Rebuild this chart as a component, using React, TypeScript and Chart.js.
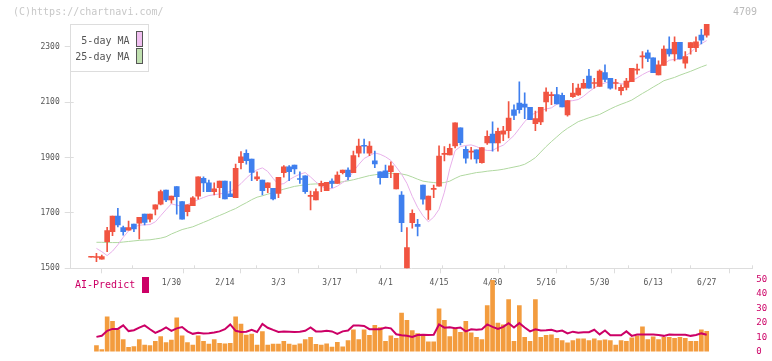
import React, { useEffect, useRef } from 'react';
import { Chart, registerables } from 'chart.js';

Chart.register(...registerables);

// ---- data (trading-day index: 0 = 1/30, 100 = 6/27) ----
const FIRST_DAY = -15;

const opens = [
  1540, 1539, 1533, 1596, 1632, 1689, 1647, 1638, 1660, 1663,
  1696, 1678, 1714, 1732, 1783, 1747, 1795, 1741, 1705, 1726,
  1761, 1825, 1809, 1777, 1791, 1815, 1769, 1755, 1882, 1916,
  1895, 1823, 1819, 1791, 1789, 1771, 1846, 1867, 1873, 1823,
  1834, 1760, 1747, 1798, 1781, 1815, 1807, 1846, 1855, 1846,
  1916, 1943, 1916, 1888, 1849, 1852, 1849, 1787, 1765, 1490,
  1665, 1659, 1801, 1711, 1785, 1797, 1912, 1910, 1942, 2008,
  1930, 1920, 1928, 1882, 1953, 1985, 1953, 1985, 1997, 2073,
  2097, 2094, 2082, 2023, 2029, 2101, 2124, 2128, 2125, 2054,
  2120, 2127, 2151, 2195, 2168, 2157, 2207, 2187, 2168, 2142,
  2154, 2175, 2216, 2264, 2279, 2261, 2199, 2233, 2292, 2275,
  2317, 2241, 2297, 2297, 2343, 2343,
];

const highs = [
  1540, 1554, 1548, 1648, 1689, 1717, 1653, 1671, 1660, 1684,
  1696, 1696, 1729, 1783, 1783, 1761, 1795, 1741, 1729, 1759,
  1831, 1831, 1819, 1809, 1815, 1815, 1813, 1877, 1922, 1928,
  1895, 1849, 1819, 1809, 1789, 1829, 1871, 1871, 1873, 1849,
  1834, 1779, 1787, 1815, 1811, 1823, 1849, 1855, 1863, 1924,
  1967, 1967, 1958, 1924, 1849, 1873, 1885, 1843, 1777, 1647,
  1711, 1677, 1801, 1761, 1801, 1943, 1940, 1949, 2026, 2008,
  1940, 1937, 1928, 1936, 1997, 2029, 2007, 2013, 2103, 2091,
  2174, 2134, 2082, 2068, 2082, 2152, 2137, 2154, 2133, 2106,
  2169, 2166, 2183, 2219, 2187, 2217, 2235, 2187, 2183, 2163,
  2187, 2223, 2238, 2283, 2289, 2261, 2250, 2304, 2337, 2337,
  2317, 2283, 2316, 2337, 2364, 2383,
];

const lows = [
  1540, 1524, 1533, 1560, 1618, 1650, 1620, 1638, 1632, 1606,
  1657, 1668, 1693, 1729, 1741, 1735, 1696, 1678, 1689, 1726,
  1750, 1777, 1777, 1765, 1755, 1751, 1759, 1755, 1859, 1876,
  1817, 1817, 1765, 1773, 1747, 1755, 1829, 1817, 1841, 1807,
  1771, 1711, 1747, 1777, 1781, 1791, 1807, 1841, 1819, 1846,
  1903, 1916, 1907, 1864, 1804, 1828, 1828, 1787, 1632, 1470,
  1645, 1617, 1732, 1677, 1755, 1797, 1888, 1910, 1935, 1946,
  1880, 1894, 1880, 1880, 1948, 1923, 1923, 1961, 1971, 2037,
  2061, 2041, 2037, 1997, 2019, 2068, 2091, 2094, 2083, 2050,
  2118, 2125, 2151, 2151, 2151, 2157, 2175, 2147, 2147, 2127,
  2145, 2175, 2202, 2223, 2247, 2207, 2199, 2233, 2267, 2250,
  2257, 2223, 2274, 2283, 2311, 2335,
];

const closes = [
  1540, 1541, 1542, 1636, 1689, 1657, 1632, 1647, 1642, 1684,
  1666, 1696, 1729, 1777, 1747, 1761, 1759, 1678, 1729, 1755,
  1831, 1809, 1777, 1787, 1815, 1751, 1759, 1861, 1903, 1889,
  1847, 1831, 1781, 1809, 1751, 1829, 1867, 1849, 1859, 1821,
  1777, 1763, 1777, 1807, 1811, 1807, 1837, 1855, 1831, 1907,
  1942, 1941, 1942, 1877, 1828, 1828, 1870, 1843, 1665, 1575,
  1699, 1651, 1750, 1761, 1787, 1906, 1914, 1934, 2026, 1954,
  1898, 1923, 1895, 1936, 1977, 1953, 1995, 1997, 2043, 2053,
  2073, 2082, 2037, 2041, 2082, 2137, 2126, 2094, 2083, 2106,
  2133, 2151, 2169, 2151, 2170, 2213, 2183, 2151, 2170, 2154,
  2177, 2223, 2218, 2266, 2259, 2207, 2235, 2292, 2275, 2317,
  2257, 2265, 2316, 2319, 2325, 2383,
];

const ma5 = [
  null, 1572, 1560, 1546, 1562, 1585, 1612, 1635, 1648, 1656,
  1657, 1658, 1668, 1690, 1712, 1733, 1728, 1724, 1730, 1740,
  1748, 1756, 1763, 1766, 1769, 1772, 1778, 1790, 1806, 1826,
  1843, 1856, 1863, 1850, 1825, 1803, 1806, 1820, 1831, 1840,
  1846, 1830, 1812, 1797, 1787, 1788, 1797, 1810, 1822, 1850,
  1875, 1897, 1907, 1917, 1912, 1903, 1890, 1866, 1840, 1807,
  1760, 1720, 1690, 1668, 1685, 1713, 1775, 1860, 1925, 1940,
  1944, 1946, 1940, 1930, 1926, 1926, 1937, 1945, 1962, 1980,
  2005, 2030, 2050, 2062, 2070, 2076, 2080, 2093, 2100, 2104,
  2106, 2110, 2122, 2138, 2152, 2163, 2170, 2175, 2171, 2167,
  2165, 2178, 2188, 2200, 2210, 2217, 2229, 2238, 2252, 2255,
  2256, 2268, 2280, 2298, 2312, 2323,
];

const ma25 = [
  null, 1594, 1594, 1593, 1593, 1593, 1595, 1597, 1599, 1601,
  1602, 1603, 1606, 1609, 1614, 1624, 1632, 1640, 1645, 1650,
  1658, 1666, 1674, 1683, 1691, 1699, 1708, 1716, 1727, 1737,
  1748, 1757, 1762, 1768, 1773, 1780, 1786, 1791, 1796, 1799,
  1802, 1804, 1805, 1805, 1805, 1807, 1809, 1813, 1816, 1820,
  1825, 1830, 1835, 1838, 1841, 1842, 1843, 1843, 1841, 1837,
  1830, 1822, 1815, 1812, 1810, 1808, 1810, 1815, 1825, 1834,
  1838, 1842, 1846, 1848, 1851, 1853, 1855, 1858, 1862, 1866,
  1870, 1876, 1887, 1900, 1920, 1940, 1958, 1975, 1992, 2006,
  2018, 2030, 2037, 2044, 2050, 2056, 2066, 2076, 2085, 2093,
  2100, 2108, 2120, 2132, 2143, 2155, 2166, 2178, 2184, 2190,
  2198, 2205, 2212, 2220, 2228, 2235,
];

const volumes = [
  null, 4.2, 1.4, 24.1, 20.9, 15.1, 8.4, 2.9, 3.5, 8.4,
  4.6, 4.2, 7.1, 10.4, 6.3, 7.9, 23.4, 10.9, 6.3, 4.6,
  10.9, 7.1, 5.2, 8.4, 5.8, 5.4, 5.8, 24.1, 19.0, 11.5,
  12.1, 4.6, 13.8, 4.6, 5.2, 5.2, 7.1, 5.2, 4.6, 5.4,
  8.4, 9.8, 5.0, 4.6, 5.4, 3.1, 6.5, 3.3, 7.7, 15.1,
  8.4, 15.1, 11.3, 18.2, 16.7, 7.1, 10.9, 9.2, 26.6, 21.7,
  14.6, 12.5, 11.5, 6.7, 6.7, 29.7, 21.7, 10.4, 15.5, 13.4,
  20.9, 13.0, 9.8, 8.4, 31.8, 49.4, 19.7, 18.6, 36.0, 7.1,
  31.8, 9.8, 7.1, 36.0, 9.8, 11.3, 11.7, 9.2, 7.7, 6.0,
  7.7, 8.8, 8.8, 7.7, 8.8, 7.7, 8.2, 7.7, 4.6, 7.7,
  7.1, 9.6, 10.9, 17.1, 8.4, 10.2, 8.4, 9.8, 9.8, 9.2,
  9.8, 9.2, 7.1, 7.1, 15.1, 14.0,
];

const aiPredict = [
  null, 10.2, 11.0, 14.4, 15.7, 15.7, 18.2, 14.2, 14.8, 16.6,
  18.2, 15.5, 13.0, 14.6, 16.7, 14.4, 16.1, 17.0, 14.0, 12.3,
  13.0, 12.6, 12.7, 13.2, 14.0, 15.5, 18.8, 14.4, 13.6, 13.8,
  15.1, 13.6, 19.2, 16.5, 15.0, 13.6, 14.0, 13.8, 13.6, 13.8,
  14.4, 16.7, 14.0, 14.0, 14.4, 14.0, 12.3, 14.0, 14.6, 18.0,
  18.0, 17.8, 15.5, 15.5, 15.5, 16.7, 16.1, 12.0, 11.3, 10.9,
  10.2, 11.5, 11.7, 11.5, 11.7, 18.8, 16.6, 16.8, 16.1, 16.7,
  14.0, 15.5, 15.1, 15.5, 18.8, 17.1, 15.7, 17.1, 19.7, 16.7,
  19.7, 16.7, 14.0, 15.5, 14.6, 14.8, 15.1, 14.0, 14.6, 12.6,
  13.8, 13.0, 13.4, 13.4, 15.1, 11.9, 14.6, 11.3, 11.3, 11.3,
  14.0, 10.9, 11.9, 11.9, 11.9, 11.9, 11.5, 10.9, 11.9, 11.7,
  11.7, 11.7, 10.9, 11.5, 12.6, 11.7,
];

const dateLabels = ['1/30', '2/14', '3/3', '3/17', '4/1', '4/15', '4/30', '5/16', '5/30', '6/13', '6/27'];
const dateLabelDays = [0, 10, 20, 30, 40, 50, 60, 70, 80, 90, 100];
const priceTicks = [1500, 1700, 1900, 2100, 2300];
const aiTicks = [0, 10, 20, 30, 40, 50];

// ---- styling / layout ----
const X_MIN = -18.81;
const X_MAX = 108.52;
const GRID_STEPS = 11;
const PRICE_MIN = 1500;
const UP = '#f15441';
const DOWN = '#3f7fee';
const AXIS = '#dddddd';
const TEXT = '#555555';
const AI_COLOR = '#cc0066';
const MONO = '"DejaVu Sans Mono", monospace';

const days = opens.map((_, k) => FIRST_DAY + k);
const candleColors = opens.map((o, k) => (closes[k] >= o ? UP : DOWN));
const gridVals = Array.from({ length: GRID_STEPS + 1 }, (_, k) => X_MIN + ((X_MAX - X_MIN) * k) / GRID_STEPS);
const xTickVals = [...gridVals, ...dateLabelDays].sort((a, b) => a - b);

const align = (p: number) => Math.round(p - 0.5) + 0.5;

const topDecor = {
  id: 'topDecor',
  afterDraw(chart: any) {
    const { ctx, chartArea, scales } = chart;
    ctx.save();
    ctx.strokeStyle = AXIS;
    ctx.lineWidth = 1;
    ctx.beginPath();
    for (const v of gridVals) {
      const px = align(scales.x.getPixelForValue(v));
      ctx.moveTo(px, chartArea.bottom - 3);
      ctx.lineTo(px, chartArea.bottom);
    }
    for (const v of priceTicks) {
      const py = align(scales.y.getPixelForValue(v));
      ctx.moveTo(chartArea.left, py);
      ctx.lineTo(chartArea.left + 3, py);
    }
    ctx.stroke();

    // watermark texts
    ctx.font = `10px ${MONO}`;
    ctx.textBaseline = 'middle';
    ctx.fillStyle = '#c8c8c8';
    ctx.textAlign = 'left';
    ctx.fillText('(C)https://chartnavi.com/', 13, 12);
    ctx.fillStyle = '#bbbbbb';
    ctx.textAlign = 'right';
    ctx.fillText('4709', 757, 12);

    // MA legend box
    const bx = align(chartArea.left);
    const by = align(chartArea.top);
    ctx.fillStyle = '#ffffff';
    ctx.fillRect(bx, by, 78, 47);
    ctx.strokeStyle = AXIS;
    ctx.strokeRect(bx, by, 78, 47);
    ctx.fillStyle = TEXT;
    ctx.textAlign = 'right';
    ctx.fillText('5-day MA', bx + 59, by + 17);
    ctx.fillText('25-day MA', bx + 59, by + 33);
    ctx.strokeStyle = '#555555';
    ctx.fillStyle = '#f0bff0';
    ctx.fillRect(bx + 66, by + 7, 6, 15);
    ctx.strokeRect(bx + 66, by + 7, 6, 15);
    ctx.fillStyle = '#c0e0b0';
    ctx.fillRect(bx + 66, by + 24, 6, 15);
    ctx.strokeRect(bx + 66, by + 24, 6, 15);
    ctx.restore();
  },
};

const bottomDecor = {
  id: 'bottomDecor',
  afterDraw(chart: any) {
    const { ctx } = chart;
    ctx.save();
    ctx.font = `10px ${MONO}`;
    ctx.textBaseline = 'middle';
    ctx.textAlign = 'left';
    ctx.fillStyle = AI_COLOR;
    ctx.fillText('AI-Predict', 75, 15.5);
    ctx.fillRect(142, 7, 7, 16);
    ctx.restore();
  },
};

export default function App() {
  const topRef = useRef<HTMLCanvasElement>(null);
  const botRef = useRef<HTMLCanvasElement>(null);

  useEffect(() => {
    const top = new Chart(topRef.current as HTMLCanvasElement, {
      type: 'bar',
      data: {
        datasets: [
          {
            type: 'line',
            label: '25-day MA',
            data: days.map((d, k) => ({ x: d, y: ma25[k] })),
            borderColor: '#b0d8a0',
            borderWidth: 1,
            pointRadius: 0,
            order: 4,
          } as any,
          {
            type: 'line',
            label: '5-day MA',
            data: days.map((d, k) => ({ x: d, y: ma5[k] })),
            borderColor: '#e8b0ea',
            borderWidth: 1,
            pointRadius: 0,
            order: 3,
          } as any,
          {
            type: 'bar',
            label: 'range',
            data: days.map((d, k) => ({ x: d, y: [lows[k], highs[k]] })),
            backgroundColor: candleColors,
            barThickness: 1,
            grouped: false,
            order: 2,
          } as any,
          {
            type: 'bar',
            label: 'body',
            data: days.map((d, k) => ({ x: d, y: [opens[k], closes[k]] })),
            backgroundColor: candleColors,
            barThickness: 5,
            minBarLength: 1,
            grouped: false,
            order: 1,
          } as any,
        ],
      },
      options: {
        responsive: false,
        maintainAspectRatio: false,
        animation: false,
        events: [],
        layout: { padding: { left: 0, right: 19.7, top: 24, bottom: 0 } },
        plugins: { legend: { display: false }, tooltip: { enabled: false } },
        scales: {
          x: {
            type: 'linear',
            min: X_MIN,
            max: X_MAX,
            offset: false,
            afterBuildTicks: (s: any) => {
              s.ticks = xTickVals.map((v) => ({ value: v }));
            },
            afterFit: (s: any) => {
              s.height = 31.7;
            },
            grid: {
              drawOnChartArea: false,
              tickLength: 5,
              color: (c: any) =>
                c.tick && dateLabelDays.includes(c.tick.value) ? 'rgba(0,0,0,0)' : AXIS,
            },
            border: { color: AXIS },
            ticks: {
              autoSkip: false,
              maxRotation: 0,
              minRotation: 0,
              padding: 5,
              color: TEXT,
              font: { family: MONO, size: 8 },
              callback: (v: any) => {
                const idx = dateLabelDays.indexOf(v);
                return idx >= 0 ? dateLabels[idx] : '';
              },
            },
          },
          y: {
            type: 'linear',
            position: 'left',
            min: PRICE_MIN,
            max: Math.max(...highs),
            afterBuildTicks: (s: any) => {
              s.ticks = priceTicks.map((v) => ({ value: v }));
            },
            afterFit: (s: any) => {
              s.width = 70.7;
            },
            grid: { drawOnChartArea: false, tickLength: 6, color: AXIS },
            border: { color: AXIS },
            ticks: {
              padding: 5,
              color: TEXT,
              font: { family: MONO, size: 8 },
              callback: (v: any) => String(v),
            },
          },
        },
      } as any,
      plugins: [topDecor],
    });

    const bottom = new Chart(botRef.current as HTMLCanvasElement, {
      type: 'bar',
      data: {
        datasets: [
          {
            type: 'line',
            label: 'AI-Predict',
            data: days.map((d, k) => ({ x: d, y: aiPredict[k] })),
            yAxisID: 'y',
            borderColor: AI_COLOR,
            borderWidth: 2,
            pointRadius: 0,
            order: 1,
          } as any,
          {
            type: 'bar',
            label: 'Volume',
            data: days.map((d, k) => ({ x: d, y: volumes[k] })),
            yAxisID: 'yv',
            backgroundColor: '#f39c3e',
            barThickness: 4,
            grouped: false,
            order: 2,
          } as any,
        ],
      },
      options: {
        responsive: false,
        maintainAspectRatio: false,
        animation: false,
        events: [],
        layout: { padding: { left: 70.7, right: 0, top: 7.7, bottom: 3.7 } },
        plugins: { legend: { display: false }, tooltip: { enabled: false } },
        scales: {
          x: { type: 'linear', min: X_MIN, max: X_MAX, offset: false, display: false },
          y: {
            type: 'linear',
            position: 'right',
            min: 0,
            max: 50,
            afterBuildTicks: (s: any) => {
              s.ticks = aiTicks.map((v) => ({ value: v }));
            },
            afterFit: (s: any) => {
              s.width = 19.7;
            },
            grid: { display: false, drawTicks: false },
            border: { display: false },
            ticks: {
              padding: 4,
              color: AI_COLOR,
              font: { family: MONO, size: 9 },
            },
          },
          yv: { type: 'linear', display: false, min: 0, max: 50 },
        },
      } as any,
      plugins: [bottomDecor],
    });

    return () => {
      top.destroy();
      bottom.destroy();
    };
  }, []);

  return (
    <div style={{ position: 'fixed', left: 0, top: 0, width: 772, height: 361, background: '#ffffff' }}>
      <canvas
        ref={topRef}
        width={772}
        height={300}
        style={{ position: 'absolute', left: 0, top: 0, width: 772, height: 300 }}
      />
      <canvas
        ref={botRef}
        width={772}
        height={91}
        style={{ position: 'absolute', left: 0, top: 270, width: 772, height: 91 }}
      />
    </div>
  );
}
